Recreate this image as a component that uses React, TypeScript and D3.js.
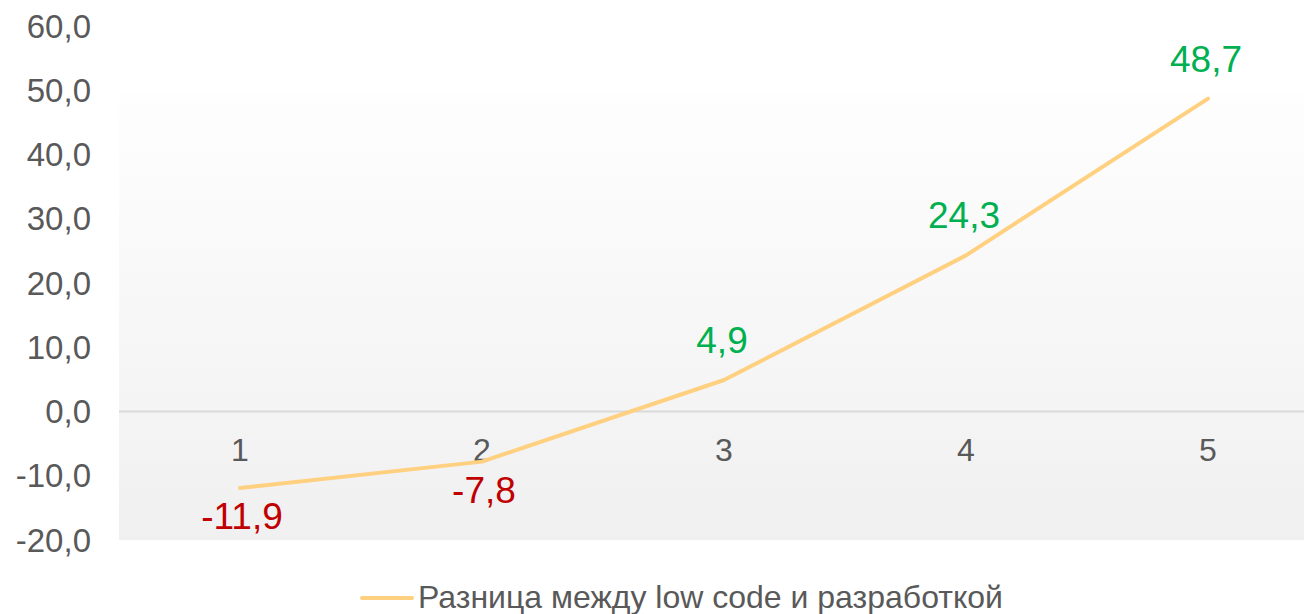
import React, { useEffect, useRef } from 'react';
import * as d3 from 'd3';

const categories: string[] = ['1', '2', '3', '4', '5'];
const values: number[] = [-11.9, -7.8, 4.9, 24.3, 48.7];
const yTicks: number[] = [-20, -10, 0, 10, 20, 30, 40, 50, 60];
const seriesName = 'Разница между low code и разработкой';

const App = () => {
  const ref = useRef<SVGSVGElement>(null);

  useEffect(() => {
    const svg = d3.select(ref.current);
    svg.selectAll('*').remove();

    const width = 1304;
    const font = '"Liberation Sans", Arial, sans-serif';
    const fmt = (v: number) => d3.format('.1f')(v).replace('.', ',').replace('−', '-');

    const x = d3.scaleBand().domain(categories).range([119, 1329]);
    const y = d3.scaleLinear().domain([-20, 60]).range([540, 26]);
    const cx = (c: string) => (x(c) || 0) + x.bandwidth() / 2;

    // background gradient
    const defs = svg.append('defs');
    const grad = defs
      .append('linearGradient')
      .attr('id', 'bg')
      .attr('x1', 0)
      .attr('y1', 0)
      .attr('x2', 0)
      .attr('y2', 1);
    grad.append('stop').attr('offset', '0%').attr('stop-color', '#fefefe');
    grad.append('stop').attr('offset', '100%').attr('stop-color', '#f0f0f0');

    svg
      .append('rect')
      .attr('x', 119)
      .attr('y', 93)
      .attr('width', width - 119)
      .attr('height', y(-20) - 93)
      .attr('fill', 'url(#bg)');

    // zero line
    svg
      .append('line')
      .attr('x1', 119)
      .attr('x2', width)
      .attr('y1', y(0))
      .attr('y2', y(0))
      .attr('stroke', '#d9d9d9')
      .attr('stroke-width', 2);

    // y axis labels
    svg
      .append('g')
      .selectAll('text')
      .data(yTicks)
      .enter()
      .append('text')
      .attr('x', 91)
      .attr('y', (d) => y(d))
      .attr('dy', '0.35em')
      .attr('text-anchor', 'end')
      .attr('font-family', font)
      .attr('font-size', 33)
      .attr('fill', '#595959')
      .text((d) => fmt(d));

    // category labels
    svg
      .append('g')
      .selectAll('text')
      .data(categories)
      .enter()
      .append('text')
      .attr('x', (d) => cx(d))
      .attr('y', 450)
      .attr('dy', '0.35em')
      .attr('text-anchor', 'middle')
      .attr('font-family', font)
      .attr('font-size', 32)
      .attr('fill', '#595959')
      .text((d) => d);

    // line
    const line = d3
      .line<number>()
      .x((_, i) => cx(categories[i]))
      .y((d) => y(d));

    svg
      .append('path')
      .datum(values)
      .attr('d', line)
      .attr('fill', 'none')
      .attr('stroke', '#ffd07f')
      .attr('stroke-width', 4)
      .attr('stroke-linecap', 'round')
      .attr('stroke-linejoin', 'round');

    // data labels
    svg
      .append('g')
      .selectAll('text')
      .data(values)
      .enter()
      .append('text')
      .attr('x', (_, i) => cx(categories[i]) + (values[i] < 0 ? 2 : -2))
      .attr('y', (d) => (d < 0 ? y(d) + 28 : y(d) - 40))
      .attr('dy', '0.35em')
      .attr('text-anchor', 'middle')
      .attr('font-family', font)
      .attr('font-size', 37)
      .attr('fill', (d) => (d < 0 ? '#c00000' : '#00b050'))
      .text((d) => fmt(d));

    // legend
    const legend = svg.append('g');
    legend
      .append('line')
      .attr('x1', 362)
      .attr('x2', 412)
      .attr('y1', 598)
      .attr('y2', 598)
      .attr('stroke', '#ffd07f')
      .attr('stroke-width', 4)
      .attr('stroke-linecap', 'round');
    legend
      .append('text')
      .attr('x', 418)
      .attr('y', 597)
      .attr('dy', '0.35em')
      .attr('font-family', font)
      .attr('font-size', 32)
      .attr('fill', '#595959')
      .text(seriesName);
  }, []);

  return (
    <svg
      ref={ref}
      width={1304}
      height={614}
      style={{ position: 'absolute', left: 0, top: 0, background: '#ffffff' }}
    />
  );
};

export default App;
